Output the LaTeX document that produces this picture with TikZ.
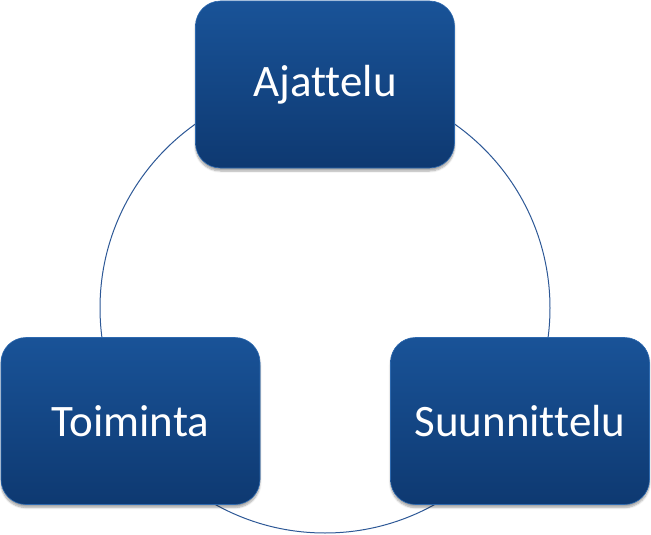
\documentclass[tikz,border=0pt]{standalone}
\usepackage{fontspec}
\setmainfont{Carlito}[Ligatures={NoCommon}]
\usetikzlibrary{shadows.blur}
\definecolor{boxtop}{RGB}{25,83,152}
\definecolor{boxbot}{RGB}{14,57,113}
\definecolor{boxedge}{RGB}{45,105,175}
\definecolor{ringcol}{RGB}{45,88,150}
\tikzset{
  phase/.style={rectangle, rounded corners=25pt, minimum width=259pt, minimum height=167pt,
    top color=boxtop, bottom color=boxbot, draw=boxedge, line width=0.6pt,
    text=white, font=\fontsize{45}{54}\selectfont, inner sep=0pt,
    blur shadow={shadow xshift=0pt, shadow yshift=-3pt, shadow blur steps=6, shadow opacity=35}},
  ring/.style={draw=ringcol, line width=1pt}
}
\begin{document}
\begin{tikzpicture}[x=1pt,y=-1pt]
\useasboundingbox (0,0) rectangle (651,535);
\coordinate (c) at (325,308);
\draw[ring] (c) circle (225pt);
\node[phase] (ajattelu) at (325,84.5) {Ajattelu};
\node[phase] (toiminta) at (130.5,421) {Toiminta};
\node[phase] (suunnittelu) at (520,421) {Suunnittelu};
\end{tikzpicture}
\end{document}
